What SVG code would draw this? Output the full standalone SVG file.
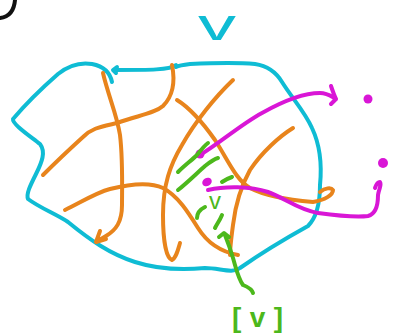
<svg xmlns="http://www.w3.org/2000/svg" width="402" height="336" viewBox="0 0 402 336">
<style>
.s{fill:none;stroke-linecap:round;stroke-linejoin:round;stroke-width:4}
.cy{stroke:#0fbcd4}
.or{stroke:#e8841c}
.mg{stroke:#d916d6}
.gr{stroke:#4cb81c}
.bk{stroke:#111}
.lbl{font-family:"Liberation Sans",Arial,sans-serif}
</style>
<rect width="402" height="336" fill="#fff"/>
<g id="corner">
<path class="s bk" d="M0,18 C8,17 14,12 15,0"/>
</g>
<g id="V-region">
<path class="s cy" d="M112,82 C110,72 102,66 92,64 C80,62 68,66 58,74 C42,88 24,106 13,119 C12,124 30,136 40,144 C46,152 42,162 36,174 C30,186 26,194 28,199 C40,208 56,214 68,222 C90,240 110,254 135,262 C160,270 185,270 205,268 C220,268 232,274 240,268 C260,254 290,236 308,226 C318,216 320,200 320,185 C322,165 320,145 312,128 C305,112 292,98 282,82 C276,72 268,66 255,64 C235,62 210,63 190,64 C182,65 178,66 176,67"/>
<path class="s cy" d="M176,65 C170,70 150,70 114,70 M117,67 L113,70 L116,73"/>
<text class="lbl" x="217" y="40" font-size="44" fill="#0fbcd4" text-anchor="middle" textLength="38" lengthAdjust="spacingAndGlyphs">v</text>
</g>
<g id="connectors">
<g id="orange-paths">
<path class="s or" d="M103,73 C108,95 117,115 120,135 C123,160 122,190 122,205 C122,222 116,230 106,236 L96,242 M100,231 L96,242 L106,239"/>
<path class="s or" d="M172,65 C175,80 174,95 163,106 C155,113 140,115 117,123 C100,127 92,128 83,137 C72,147 56,162 43,175"/>
<path class="s or" d="M65,210 C80,203 95,193 110,189 C130,184 150,182 163,188 C178,196 188,212 198,228 C208,244 222,252 238,255"/>
<path class="s or" d="M233,80 C215,97 195,122 182,145 C170,165 163,185 163,215 C163,240 166,258 172,260 C176,258 178,250 180,243"/>
<path class="s or" d="M177,100 C190,108 203,123 215,140 C228,160 236,180 250,188 C265,196 290,200 313,202 C325,200 333,195 333,190 C331,187 325,188 320,192"/>
<path class="s or" d="M293,128 C280,136 262,152 250,170 C240,188 235,208 233,225 C231,240 230,250 230,255"/>
</g>
<g id="magenta-paths">
<path class="s mg" d="M200,155 C220,143 240,125 262,113 C285,100 305,93 320,93 C328,93 332,97 336,99 M331,86 C333,92 334,95 336,99 C334,101 332,103 331,104"/>
<circle cx="200" cy="154" r="4.5" fill="#d916d6"/>
<ellipse cx="207" cy="182" rx="5" ry="4" transform="rotate(-30 207 182)" fill="#d916d6"/>
<path class="s mg" d="M208,190 C225,186 250,186 268,192 C285,198 298,210 318,213 C340,216 360,217 368,216 C376,214 378,205 378,195 C379,188 382,185 380,182 C378,182 376,185 375,188"/>
<circle cx="368" cy="99" r="4.5" fill="#d916d6"/>
<circle cx="383" cy="163" r="5" fill="#d916d6"/>
</g>
<g id="green-marks">
<path class="s gr" d="M178,172 C185,165 192,160 197,155 C201,150 204,146 208,143"/>
<path class="s gr" d="M178,190 C188,182 197,173 205,166 C210,162 214,159 218,158"/>
<path class="s gr" d="M222,182 C225,180 229,178 232,177"/>
<path class="s gr" d="M197,218 C197,214 199,210 205,207"/>
<path class="s gr" d="M215,228 C217,224 220,220 222,215"/>
<path class="s gr" d="M253,293 C252,289 248,287 243,285 C238,278 236,268 233,258 C230,248 227,240 225,235 M219,237 L224,233 L229,237"/>
</g>
</g>
<g id="labels">
<text class="lbl" x="215" y="209" font-size="24" fill="#4cb81c" text-anchor="middle">v</text>
<text class="lbl" x="232" y="327" font-size="28" font-weight="bold" fill="#4cb81c" textLength="51" lengthAdjust="spacing">[v]</text>
</g>
</svg>
